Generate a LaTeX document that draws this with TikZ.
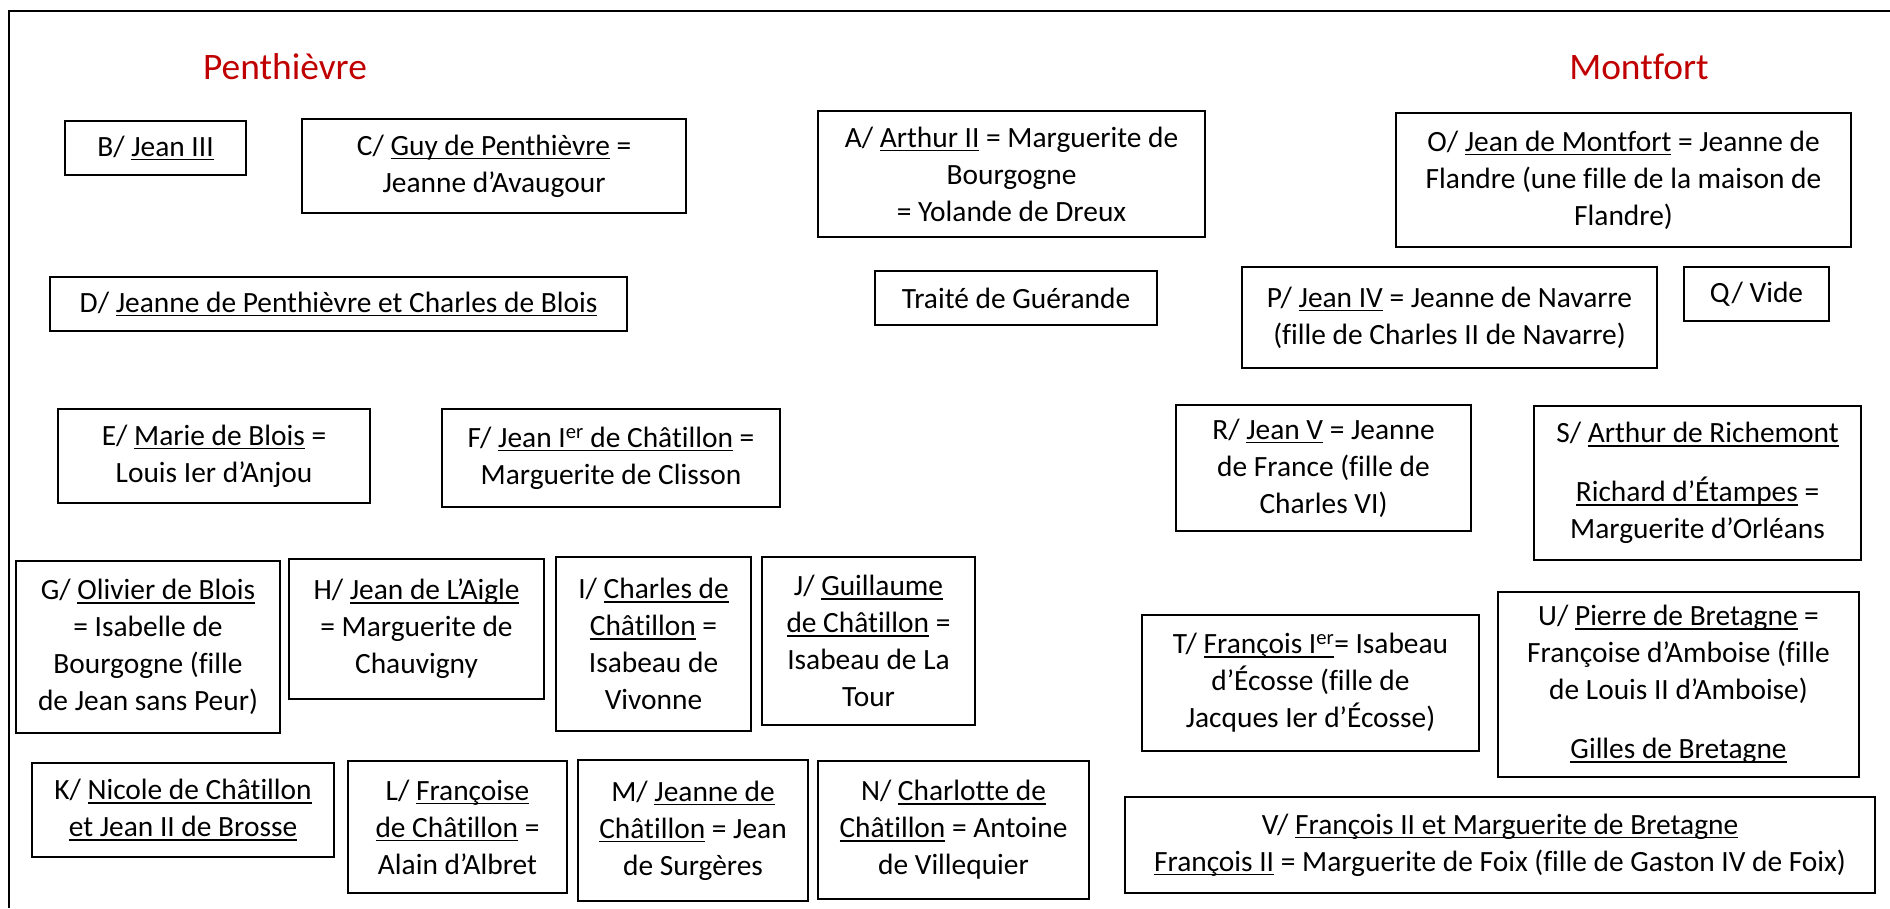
\documentclass[tikz,border=0pt]{standalone}
\usepackage{fontspec}
\setmainfont{Carlito}[Ligatures=NoCommon]
\definecolor{titlered}{HTML}{C00000}
\newcommand{\mysup}[1]{\textsuperscript{#1}}
\newsavebox{\ulnbox}
\newcommand{\uln}[1]{\leavevmode\sbox{\ulnbox}{#1}\rlap{\rule[-4pt]{\wd\ulnbox}{1.6pt}}\usebox{\ulnbox}}
\tikzset{
  box/.style={draw, line width=1.8pt, inner sep=0pt, align=center,
    font=\fontsize{29.4}{37}\selectfont},
  ttl/.style={text=titlered, anchor=base, inner sep=0pt,
    font=\fontsize{37.4}{40}\selectfont},
  frame/.style={line width=2.5pt}
}
\begin{document}
\begin{tikzpicture}[x=1pt,y=-1pt]
\useasboundingbox (0,0) rectangle (1890,908);
\draw[frame] (9,908) -- (9,11) -- (1890,11);

\node[ttl] (pen) at (285,79) {Penthièvre};
\node[ttl] (mon) at (1639,79) {Montfort};

\node[box, minimum width=181, minimum height=54] (B) at (155.5,148) {B/ \uln{Jean III}};
\node[box, minimum width=384, minimum height=94] (C) at (494,166) {C/ \uln{Guy de Penthièvre} =\\Jeanne d’Avaugour};
\node[box, minimum width=387, minimum height=126] (A) at (1011.5,174) {A/ \uln{Arthur II} = Marguerite de\\Bourgogne\\= Yolande de Dreux};
\node[box, minimum width=455, minimum height=134] (O) at (1623.5,180) {O/ \uln{Jean de Montfort} = Jeanne de\\Flandre (une fille de la maison de\\Flandre)};

\node[box, minimum width=577, minimum height=54] (D) at (338.5,304) {D/ \uln{Jeanne de Penthièvre et Charles de Blois}};
\node[box, minimum width=282, minimum height=54] (TG) at (1016,298) {Traité de Guérande};
\node[box, minimum width=415, minimum height=101] (P) at (1449.5,317.5) {P/ \uln{Jean IV} = Jeanne de Navarre\\(fille de Charles II de Navarre)};
\node[box, minimum width=145, minimum height=54] (Q) at (1756.5,294) {Q/ Vide};

\node[box, minimum width=312, minimum height=94] (E) at (214,456) {E/ \uln{Marie de Blois} =\\Louis Ier d’Anjou};
\node[box, minimum width=338, minimum height=98] (F) at (611,458) {F/ \uln{Jean I\mysup{er} de Châtillon} =\\Marguerite de Clisson};
\node[box, minimum width=295, minimum height=126] (R) at (1323.5,468) {R/ \uln{Jean V} = Jeanne\\de France (fille de\\Charles VI)};
\node[box, minimum width=327, minimum height=154] (S) at (1697.5,483) {S/ \uln{Arthur de Richemont}\\[22pt]\uln{Richard d’Étampes} =\\Marguerite d’Orléans};

\node[box, minimum width=264, minimum height=172] (G) at (148,647) {G/ \uln{Olivier de Blois}\\= Isabelle de\\Bourgogne (fille\\de Jean sans Peur)};
\node[box, minimum width=255, minimum height=140] (H) at (416.5,629) {H/ \uln{Jean de L’Aigle}\\= Marguerite de\\Chauvigny};
\node[box, minimum width=195, minimum height=174] (I) at (653.5,644) {I/ \uln{Charles de}\\\uln{Châtillon} =\\Isabeau de\\Vivonne};
\node[box, minimum width=213, minimum height=168] (J) at (868.5,641) {J/ \uln{Guillaume}\\\uln{de Châtillon} =\\Isabeau de La\\Tour};
\node[box, minimum width=337, minimum height=136] (T) at (1310.5,683) {T/ \uln{François I\mysup{er}}= Isabeau\\d’Écosse (fille de\\Jacques Ier d’Écosse)};
\node[box, minimum width=361, minimum height=185] (U) at (1678.5,684.5) {U/ \uln{Pierre de Bretagne} =\\Françoise d’Amboise (fille\\de Louis II d’Amboise)\\[22pt]\uln{Gilles de Bretagne}};

\node[box, minimum width=302, minimum height=94] (K) at (183,810) {K/ \uln{Nicole de Châtillon}\\\uln{et Jean II de Brosse}};
\node[box, minimum width=219, minimum height=132] (L) at (457.5,827) {L/ \uln{Françoise}\\\uln{de Châtillon} =\\Alain d’Albret};
\node[box, minimum width=230, minimum height=141] (M) at (693,830.5) {M/ \uln{Jeanne de}\\\uln{Châtillon} = Jean\\de Surgères};
\node[box, minimum width=271, minimum height=138] (N) at (953.5,830) {N/ \uln{Charlotte de}\\\uln{Châtillon} = Antoine\\de Villequier};
\node[box, minimum width=750, minimum height=96] (V) at (1500,845) {V/ \uln{François II et Marguerite de Bretagne}\\\uln{François II} = Marguerite de Foix (fille de Gaston IV de Foix)};
\end{tikzpicture}
\end{document}
